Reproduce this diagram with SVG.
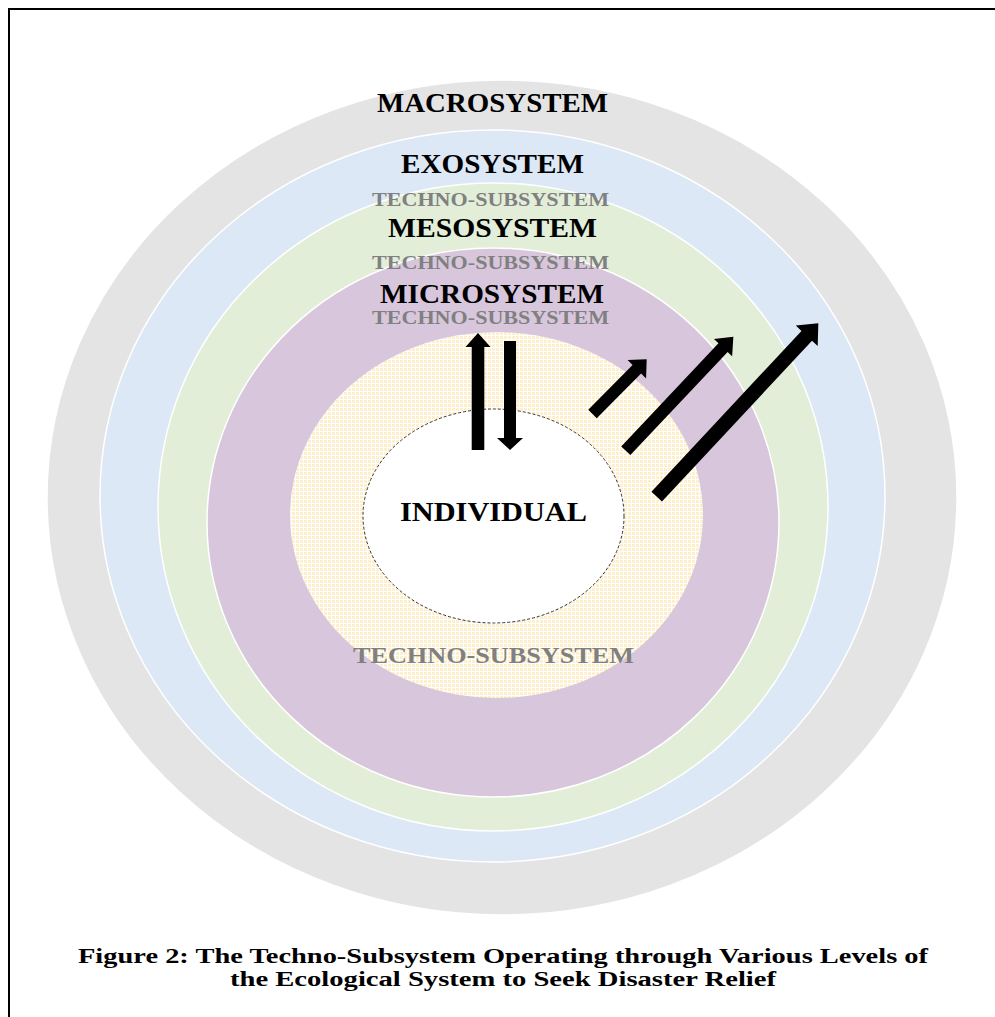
<svg xmlns="http://www.w3.org/2000/svg" width="995" height="1017" viewBox="0 0 995 1017">
  <style>
    .ring { stroke: #ffffff; stroke-width: 1.5; }
    .lbl { font-family: "Liberation Serif", "Times New Roman", serif; font-weight: bold; text-anchor: middle; fill: #000000; }
    .tech { font-family: "Liberation Serif", "Times New Roman", serif; font-weight: bold; text-anchor: middle; fill: #808080; }
    .cap { font-family: "Liberation Serif", "Times New Roman", serif; font-weight: bold; text-anchor: middle; fill: #000000; font-size: 20.5px; }
    .arrow { fill: #000000; }
  </style>
  <defs>
    <pattern id="grid" width="4" height="4" patternUnits="userSpaceOnUse">
      <rect width="4" height="4" fill="#ffffff"/>
      <rect width="3" height="3" fill="#FEF0CC"/>
    </pattern>
  </defs>
  <rect x="0" y="0" width="995" height="1017" fill="#ffffff"/>
  <path d="M9 1017 V9 H995" fill="none" stroke="#000000" stroke-width="2"/>

  <g id="macrosystem">
    <ellipse class="ring" cx="502" cy="497.5" rx="455" ry="417.5" fill="#E4E4E4"/>
  </g>
  <g id="exosystem">
    <ellipse class="ring" cx="492.5" cy="496" rx="392.5" ry="366" fill="#DCE8F5"/>
  </g>
  <g id="mesosystem">
    <ellipse class="ring" cx="493" cy="507" rx="335" ry="324" fill="#E2EED8"/>
  </g>
  <g id="microsystem">
    <ellipse class="ring" cx="493" cy="522.5" rx="286" ry="274.5" fill="#D8C7DC"/>
  </g>
  <g id="techno-subsystem">
    <ellipse cx="496.5" cy="515" rx="206.5" ry="183" fill="url(#grid)"/>
  </g>
  <g id="individual">
    <ellipse cx="493.5" cy="516" rx="130.5" ry="107" fill="#ffffff" stroke="#333333" stroke-width="1" stroke-dasharray="3 2"/>
    <text class="lbl" x="493.5" y="521" font-size="27" textLength="187" lengthAdjust="spacingAndGlyphs">INDIVIDUAL</text>
  </g>

  <g id="labels">
    <text class="lbl" x="492.5" y="112" font-size="27" textLength="231" lengthAdjust="spacingAndGlyphs">MACROSYSTEM</text>
    <text class="lbl" x="492.5" y="173" font-size="27" textLength="183" lengthAdjust="spacingAndGlyphs">EXOSYSTEM</text>
    <text class="tech" x="490.5" y="206" font-size="19" textLength="237" lengthAdjust="spacingAndGlyphs">TECHNO-SUBSYSTEM</text>
    <text class="lbl" x="492.5" y="237" font-size="27" textLength="209" lengthAdjust="spacingAndGlyphs">MESOSYSTEM</text>
    <text class="tech" x="490.5" y="269" font-size="19" textLength="237" lengthAdjust="spacingAndGlyphs">TECHNO-SUBSYSTEM</text>
    <text class="lbl" x="492" y="303" font-size="27" textLength="224" lengthAdjust="spacingAndGlyphs">MICROSYSTEM</text>
    <text class="tech" x="490.5" y="324" font-size="19" textLength="237" lengthAdjust="spacingAndGlyphs">TECHNO-SUBSYSTEM</text>
    <text class="tech" x="493.5" y="663" font-size="23" textLength="281" lengthAdjust="spacingAndGlyphs">TECHNO-SUBSYSTEM</text>
  </g>

  <g id="connectors">
    <polygon class="arrow" points="471.7,450 471.7,347 465.5,347 478,333 490.5,347 484.3,347 484.3,450"/>
    <polygon class="arrow" points="504,341 516,341 516,438 523,438 510,450 497,438 504,438"/>
    <polygon class="arrow" transform="translate(592.5 414) rotate(-45.26)" points="0,-6 63,-6 63,-13 77,0 63,13 63,6 0,6"/>
    <polygon class="arrow" transform="translate(625.8 450.8) rotate(-46.7)" points="0,-6.3 141.8,-6.3 141.8,-12.5 156.8,0 141.8,12.5 141.8,6.3 0,6.3"/>
    <polygon class="arrow" transform="translate(656.7 496.7) rotate(-47)" points="0,-7.2 220,-7.2 220,-15 237,0 220,15 220,7.2 0,7.2"/>
  </g>

  <g id="caption">
    <text class="cap" x="503" y="963" textLength="850" lengthAdjust="spacingAndGlyphs">Figure 2: The Techno-Subsystem Operating through Various Levels of</text>
    <text class="cap" x="503" y="986" textLength="546" lengthAdjust="spacingAndGlyphs">the Ecological System to Seek Disaster Relief</text>
  </g>
</svg>
